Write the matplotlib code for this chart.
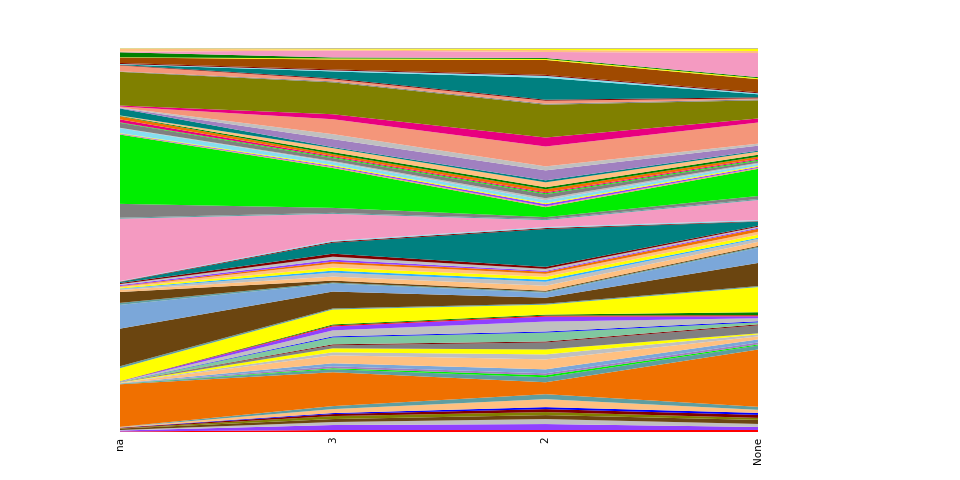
import numpy as np
import matplotlib
matplotlib.use("Agg")
import matplotlib.pyplot as plt

categories = ["na", "3", "2", "None"]

# palette used by the bands
RED, PURPLE, SILVER, BROWN = "#ff0000", "#9040ff", "#c0c0c0", "#6b4510"
OLIVE, DARKRED, BLUE, PEACH = "#808000", "#800000", "#0000ff", "#ffc080"
CADET, ORANGE, LIME, LAVENDER = "#5f9ea0", "#f07000", "#00ee00", "#a080c0"
LIGHTBLUE, YELLOW, GRAY, AQUA = "#7ba7d9", "#ffff00", "#808080", "#80c8a0"
DARKGREEN, DODGER, TEAL, CYAN = "#008000", "#30b0ff", "#008080", "#87dff0"
PINK, SALMON, MAGENTA, SIENNA = "#f49ac1", "#f4967a", "#e8007f", "#a04a00"
KHAKI = "#c8c090"

# bottom group (below the big orange band)
bottom_values = [
    [0.5, 2, 2, 2], [1, 5, 6, 3], [0.5, 3, 5, 3], [1.5, 3, 4, 4],
    [0.3, 3, 3, 2], [0.5, 2, 3, 3], [0.2, 1, 2, 2], [0.5, 4, 8, 3],
    [0.2, 3, 5, 3], [43, 34, 12, 57],
]
bottom_colors = [RED, PURPLE, SILVER, BROWN, OLIVE, DARKRED, BLUE, PEACH,
                 CADET, ORANGE]

# middle group (orange .. gray)
middle_values = [
    [0.5, 3, 5, 4], [0.1, 1, 2, 1], [0.1, 2, 2, 2], [0.3, 3, 4, 3],
    [0.5, 8, 10, 3], [0.2, 3, 5, 2], [0.2, 4, 5, 1], [0.2, 3, 7, 8],
    [0.1, 1, 1, 1], [0.3, 7, 9, 2], [0.1, 1, 1, 1], [0.2, 6, 10, 3],
    [0.2, 4, 5, 2], [0.1, 1, 1, 1], [0.1, 1, 1, 3], [13, 15, 10, 25],
    [2, 1, 1, 1], [38, 17, 6, 23], [24, 8, 5, 15], [2, 1, 1, 1],
    [11, 2, 1, 1], [2, 4, 5, 4], [1, 4, 4, 3], [0.5, 2, 2, 1],
    [1, 3, 3, 3], [1, 4, 3, 3], [0.5, 2, 2, 3], [1, 2, 1, 1],
    [1, 3, 2, 1], [1, 3, 2, 1], [1, 11, 38, 4], [0.5, 1, 1, 0.5],
    [0.5, 1, 1, 1], [63, 27, 7, 20], [1, 1, 1, 1], [14, 5, 2, 3],
]
middle_colors = [CADET, LIME, LAVENDER, LIGHTBLUE, PEACH, SILVER, YELLOW, GRAY,
                 DARKRED, AQUA, BLUE, SILVER, PURPLE, RED, DARKGREEN, YELLOW,
                 CADET, BROWN, LIGHTBLUE, CADET, BROWN, PEACH, SILVER, DODGER,
                 YELLOW, PEACH, ORANGE, PURPLE, SILVER, DARKRED, TEAL, DARKRED,
                 CYAN, PINK, CADET, GRAY]

# upper group (green .. olive)
upper_values = [
    [70, 40, 10, 27], [0.5, 1, 1, 1], [0.5, 1, 2, 1], [0.5, 1, 1, 1],
    [5, 3, 3, 2], [0.3, 1, 2, 1], [5, 3, 4, 2], [0.5, 1, 1, 1],
    [3, 1, 1, 1], [3, 2, 3, 2], [0.5, 2, 2, 2], [0.5, 4, 5, 3],
    [7, 1, 2, 1], [0.5, 8, 10, 5], [0.5, 5, 4, 2], [1, 15, 20, 21],
    [1, 5, 9, 4], [34, 32, 33, 18],
]
upper_colors = [LIME, SALMON, PURPLE, YELLOW, CYAN, SILVER, GRAY, LIME,
                MAGENTA, ORANGE, DARKGREEN, PEACH, TEAL, LAVENDER, SILVER,
                SALMON, MAGENTA, OLIVE]

# top group (above olive)
top_values = [
    [0.5, 1, 1, 1], [6, 2, 3, 1], [0.5, 1, 1, 1], [0.5, 7, 22, 3],
    [0.5, 1, 2, 1], [1, 1, 1, 1], [5.5, 10, 15, 13], [0.3, 1, 1, 1],
    [5, 1, 1, 1], [0.5, 7, 6, 24], [3, 1, 2, 2], [0.3, 0.5, 1, 2],
    [0.5, 1, 1, 1],
]
top_colors = [GRAY, SALMON, DARKRED, TEAL, CYAN, DARKRED, SIENNA, YELLOW,
              DARKGREEN, PINK, PEACH, YELLOW, KHAKI]


def main():
    values = np.array(bottom_values + middle_values + upper_values + top_values,
                      dtype=float)
    colors = bottom_colors + middle_colors + upper_colors + top_colors
    # share of each column
    values = values / values.sum(axis=0) * 100

    fig, ax = plt.subplots(figsize=(9.6, 4.8), dpi=100)
    fig.subplots_adjust(left=0.125, right=0.79, top=0.9, bottom=0.1)
    x = np.arange(len(categories))
    ax.stackplot(x, values, colors=colors, linewidth=0)
    ax.set_xlim(0, len(categories) - 1)
    ax.set_ylim(0, 100)
    ax.set_xticks(x)
    ax.set_xticklabels(categories, rotation=90, fontsize=7.5)
    ax.tick_params(axis="x", length=0)
    ax.set_yticks([])
    for s in ax.spines.values():
        s.set_visible(False)
    fig.savefig("out.png")


if __name__ == "__main__":
    main()
